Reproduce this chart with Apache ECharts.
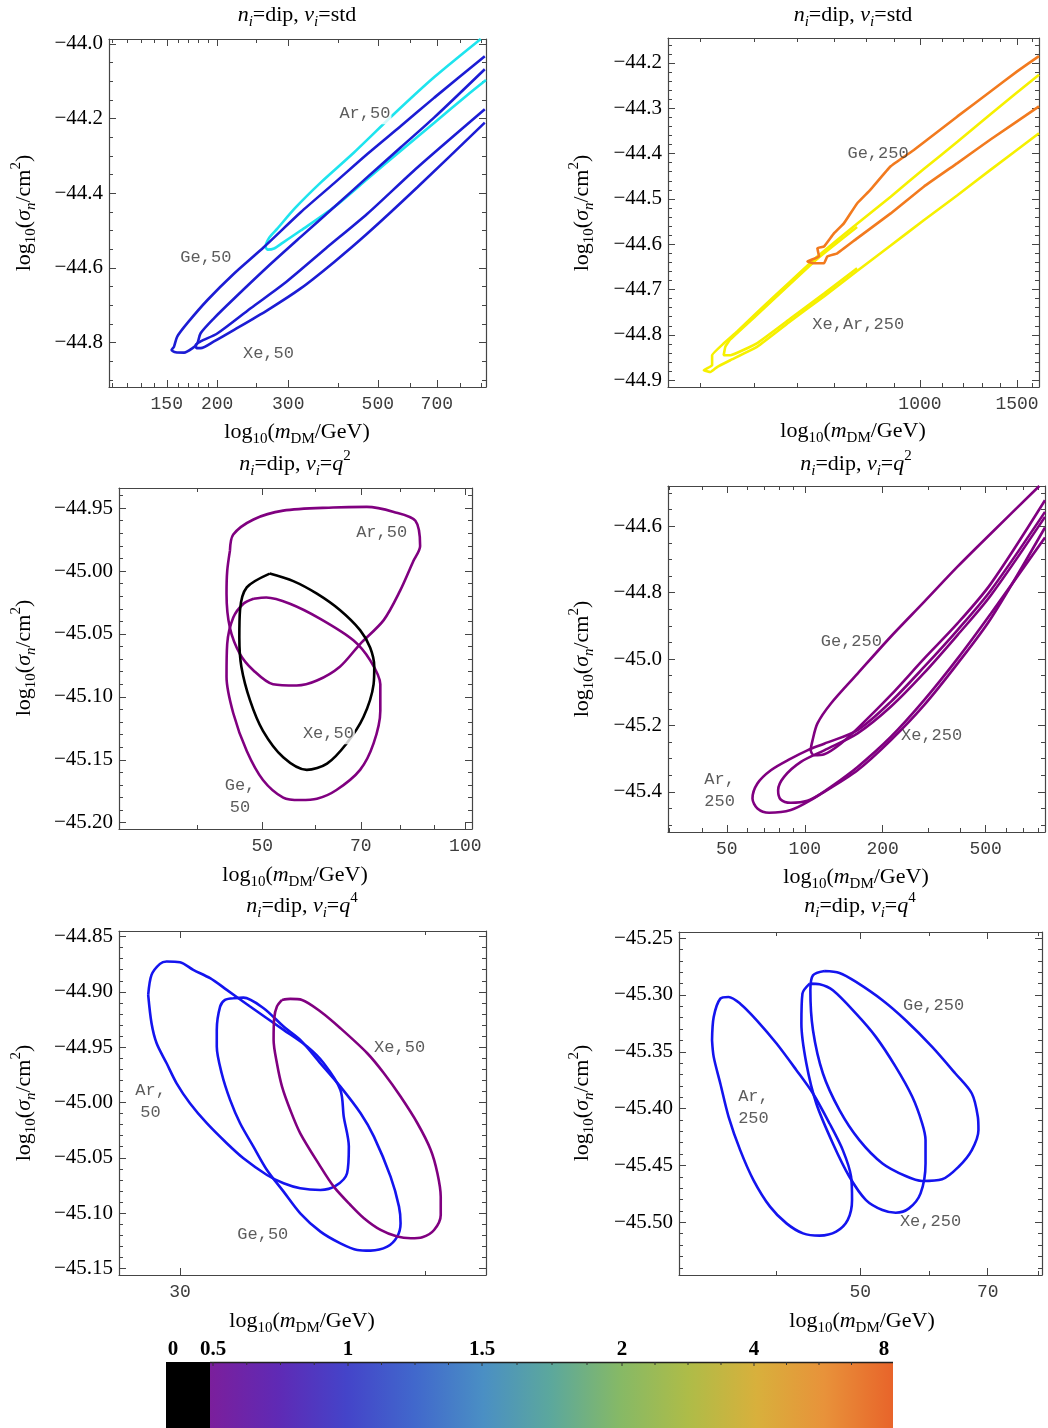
<!DOCTYPE html>
<html><head><meta charset="utf-8">
<script src="https://cdn.jsdelivr.net/npm/echarts@6/dist/echarts.min.js"></script>
<style>html,body{margin:0;padding:0;background:#fff}#c{width:1048px;height:1428px}</style>
</head><body><div id="c"></div>
<script>
// ---------- DATA: contour curves as [log10(m/GeV), log10(sigma/cm^2)] ----------
const p1Ar = [[2.954,-43.987],[2.839,-44.089],[2.739,-44.188],[2.640,-44.291],[2.558,-44.371],[2.492,-44.442],[2.450,-44.495],[2.430,-44.519],[2.421,-44.544],[2.426,-44.551],[2.442,-44.548],[2.463,-44.533],[2.508,-44.500],[2.591,-44.437],[2.673,-44.362],[2.756,-44.286],[2.839,-44.211],[2.921,-44.137],[2.967,-44.097]];
const p1Ge = [[2.964,-44.033],[2.839,-44.144],[2.756,-44.220],[2.673,-44.295],[2.591,-44.373],[2.508,-44.451],[2.417,-44.544],[2.343,-44.615],[2.277,-44.686],[2.227,-44.748],[2.202,-44.784],[2.194,-44.811],[2.188,-44.820],[2.198,-44.826],[2.219,-44.827],[2.240,-44.815],[2.252,-44.802],[2.260,-44.775],[2.293,-44.735],[2.343,-44.682],[2.426,-44.597],[2.508,-44.517],[2.591,-44.437],[2.673,-44.357],[2.756,-44.277],[2.839,-44.197],[2.964,-44.068]];
const p1Xe = [[2.964,-44.175],[2.797,-44.331],[2.673,-44.455],[2.570,-44.548],[2.467,-44.642],[2.384,-44.708],[2.302,-44.775],[2.260,-44.797],[2.248,-44.806],[2.250,-44.815],[2.260,-44.815],[2.293,-44.797],[2.343,-44.766],[2.426,-44.713],[2.508,-44.655],[2.591,-44.584],[2.673,-44.508],[2.797,-44.384],[2.964,-44.211]];

const p2Ge = [[3.216,-44.185],[3.177,-44.218],[3.128,-44.263],[3.068,-44.318],[2.989,-44.392],[2.947,-44.428],[2.910,-44.480],[2.886,-44.510],[2.862,-44.554],[2.844,-44.576],[2.826,-44.605],[2.814,-44.609],[2.817,-44.627],[2.796,-44.638],[2.808,-44.642],[2.826,-44.642],[2.832,-44.627],[2.850,-44.620],[2.886,-44.587],[2.947,-44.532],[3.007,-44.473],[3.068,-44.421],[3.128,-44.369],[3.216,-44.296]];
const p2XeAr = [[3.216,-44.226],[3.128,-44.313],[3.068,-44.374],[3.007,-44.434],[2.947,-44.495],[2.886,-44.555],[2.814,-44.627],[2.765,-44.682],[2.705,-44.750],[2.669,-44.792],[2.644,-44.819],[2.623,-44.845],[2.623,-44.867],[2.608,-44.878],[2.620,-44.882],[2.632,-44.871],[2.656,-44.856],[2.705,-44.826],[2.765,-44.770],[2.826,-44.715],[2.886,-44.659],[2.947,-44.603],[3.007,-44.547],[3.068,-44.492],[3.128,-44.436],[3.216,-44.355]];
const p2XeArInner = [[2.886,-44.562],[2.814,-44.632],[2.705,-44.755],[2.656,-44.810],[2.647,-44.826],[2.644,-44.845],[2.656,-44.845],[2.705,-44.818],[2.765,-44.764],[2.826,-44.709],[2.886,-44.653]];

const p3Ar = [[1.651,-44.984],[1.656,-44.971],[1.686,-44.959],[1.730,-44.952],[1.804,-44.9495],[1.854,-44.949],[1.894,-44.953],[1.926,-44.960],[1.933,-44.980],[1.923,-44.992],[1.903,-45.016],[1.879,-45.039],[1.844,-45.058],[1.814,-45.076],[1.780,-45.087],[1.750,-45.091],[1.715,-45.090],[1.686,-45.079],[1.666,-45.066],[1.651,-45.045],[1.646,-45.018],[1.647,-45.000],[1.651,-44.984]];
const p3Ge = [[1.686,-45.022],[1.705,-45.021],[1.740,-45.026],[1.785,-45.038],[1.834,-45.055],[1.859,-45.071],[1.874,-45.090],[1.874,-45.111],[1.864,-45.137],[1.844,-45.158],[1.809,-45.174],[1.780,-45.181],[1.755,-45.182],[1.730,-45.180],[1.700,-45.166],[1.676,-45.143],[1.656,-45.113],[1.646,-45.084],[1.647,-45.058],[1.656,-45.037],[1.671,-45.026],[1.686,-45.022]];
const p3Xe = [[1.710,-45.002],[1.745,-45.008],[1.780,-45.018],[1.814,-45.031],[1.844,-45.047],[1.859,-45.061],[1.865,-45.076],[1.864,-45.090],[1.849,-45.116],[1.824,-45.137],[1.795,-45.153],[1.765,-45.158],[1.730,-45.148],[1.700,-45.127],[1.681,-45.103],[1.668,-45.076],[1.665,-45.053],[1.666,-45.031],[1.676,-45.013],[1.710,-45.002]];

const p4Ge = [[2.906,-44.479],[2.719,-44.622],[2.590,-44.722],[2.461,-44.828],[2.332,-44.933],[2.204,-45.044],[2.101,-45.134],[2.049,-45.194],[2.030,-45.245],[2.023,-45.275],[2.036,-45.290],[2.075,-45.287],[2.139,-45.255],[2.204,-45.209],[2.332,-45.109],[2.461,-44.999],[2.590,-44.893],[2.719,-44.773],[2.928,-44.522]];
const p4Ar = [[2.928,-44.557],[2.719,-44.793],[2.590,-44.913],[2.461,-45.024],[2.332,-45.129],[2.204,-45.214],[2.075,-45.255],[2.010,-45.275],[1.946,-45.300],[1.869,-45.335],[1.817,-45.375],[1.798,-45.420],[1.817,-45.450],[1.862,-45.463],[1.946,-45.455],[2.023,-45.425],[2.101,-45.385],[2.204,-45.325],[2.332,-45.235],[2.461,-45.124],[2.590,-44.999],[2.719,-44.863],[2.928,-44.634]];
const p4Xe = [[2.928,-44.572],[2.719,-44.808],[2.590,-44.928],[2.461,-45.042],[2.332,-45.144],[2.204,-45.224],[2.075,-45.275],[1.985,-45.310],[1.920,-45.355],[1.897,-45.395],[1.907,-45.423],[1.946,-45.433],[2.010,-45.427],[2.075,-45.400],[2.204,-45.335],[2.332,-45.245],[2.461,-45.139],[2.590,-45.014],[2.719,-44.878],[2.928,-44.604]];

const p5Ar = [[1.4609,-44.9028],[1.4626,-44.8847],[1.4669,-44.8747],[1.4703,-44.8726],[1.4771,-44.8732],[1.4839,-44.8801],[1.4925,-44.8877],[1.5010,-44.8982],[1.5129,-44.9133],[1.5300,-44.9344],[1.5420,-44.9495],[1.5505,-44.9646],[1.5590,-44.9887],[1.5607,-45.0128],[1.5633,-45.0399],[1.5624,-45.0640],[1.5565,-45.0755],[1.5488,-45.0791],[1.5385,-45.0776],[1.5300,-45.0731],[1.5215,-45.0656],[1.5095,-45.0505],[1.5010,-45.0369],[1.4908,-45.0188],[1.4822,-45.0007],[1.4754,-44.9827],[1.4703,-44.9646],[1.4652,-44.9465],[1.4626,-44.9284],[1.4609,-44.9028]];
const p5Ge = [[1.5044,-44.9058],[1.5095,-44.9052],[1.5198,-44.9148],[1.5300,-44.9314],[1.5385,-44.9435],[1.5488,-44.9646],[1.5590,-44.9857],[1.5693,-45.0098],[1.5761,-45.0309],[1.5846,-45.0671],[1.5889,-45.0942],[1.5897,-45.1093],[1.5880,-45.1213],[1.5829,-45.1304],[1.5744,-45.1340],[1.5676,-45.1334],[1.5590,-45.1274],[1.5488,-45.1168],[1.5385,-45.1002],[1.5300,-45.0806],[1.5215,-45.0610],[1.5146,-45.0399],[1.5078,-45.0188],[1.5027,-44.9977],[1.4984,-44.9736],[1.4959,-44.9495],[1.4959,-44.9344],[1.4976,-44.9133],[1.5001,-44.9073],[1.5044,-44.9058]];
const p5Xe = [[1.5292,-44.9073],[1.5334,-44.9064],[1.5394,-44.9073],[1.5488,-44.9178],[1.5590,-44.9329],[1.5727,-44.9555],[1.5812,-44.9736],[1.5897,-44.9947],[1.5983,-45.0188],[1.6051,-45.0429],[1.6085,-45.0640],[1.6102,-45.0852],[1.6102,-45.1017],[1.6068,-45.1153],[1.6008,-45.1219],[1.5949,-45.1228],[1.5880,-45.1213],[1.5795,-45.1153],[1.5710,-45.1047],[1.5641,-45.0927],[1.5556,-45.0761],[1.5488,-45.0580],[1.5385,-45.0279],[1.5334,-45.0068],[1.5292,-44.9857],[1.5266,-44.9646],[1.5249,-44.9435],[1.5252,-44.9239],[1.5266,-44.9133],[1.5292,-44.9073]];

const p6Ar = [[1.5289,-45.3399],[1.5308,-45.3194],[1.5384,-45.3033],[1.5479,-45.3018],[1.5612,-45.3077],[1.5802,-45.3223],[1.6029,-45.3428],[1.6257,-45.3662],[1.6447,-45.3867],[1.6637,-45.4131],[1.6789,-45.4365],[1.6884,-45.4599],[1.6895,-45.4804],[1.6846,-45.4979],[1.6713,-45.5082],[1.6523,-45.5117],[1.6333,-45.5097],[1.6143,-45.5009],[1.5954,-45.4862],[1.5764,-45.4628],[1.5612,-45.4365],[1.5479,-45.4072],[1.5384,-45.3779],[1.5308,-45.3545],[1.5289,-45.3399]];
const p6Ge = [[1.6580,-45.2790],[1.6447,-45.2828],[1.6417,-45.2960],[1.6447,-45.3311],[1.6561,-45.3691],[1.6751,-45.4013],[1.6979,-45.4277],[1.7244,-45.4482],[1.7510,-45.4593],[1.7700,-45.4637],[1.7928,-45.4622],[1.8118,-45.4511],[1.8269,-45.4365],[1.8345,-45.4189],[1.8338,-45.4072],[1.8269,-45.3867],[1.8080,-45.3691],[1.7814,-45.3457],[1.7510,-45.3223],[1.7244,-45.3047],[1.6941,-45.2886],[1.6751,-45.2807],[1.6580,-45.2790]];
const p6Xe = [[1.6409,-45.2901],[1.6326,-45.2989],[1.6314,-45.3252],[1.6371,-45.3604],[1.6485,-45.3955],[1.6675,-45.4306],[1.6865,-45.4599],[1.7055,-45.4804],[1.7244,-45.4892],[1.7396,-45.4915],[1.7548,-45.4877],[1.7681,-45.4745],[1.7738,-45.4482],[1.7738,-45.4277],[1.7700,-45.4131],[1.7586,-45.3896],[1.7396,-45.3633],[1.7168,-45.3369],[1.6941,-45.3165],[1.6675,-45.2960],[1.6523,-45.2907],[1.6409,-45.2901]];

// contour labels [log10 m, log10 sigma, text, whiteBackground]
const p1Labels = [[2.667,-44.186,'Ar,50',1],[2.273,-44.571,'Ge,50',0],[2.428,-44.830,'Xe,50',0]];
const p2Labels = [[2.924,-44.399,'Ge,250',0],[2.888,-44.778,'Xe,Ar,250',0]];
const p3Labels = [[1.876,-44.969,'Ar,50',0],[1.797,-45.129,'Xe,50',1],[1.666,-45.179,'Ge,\n50',0]];
const p4Labels = [[2.180,-44.948,'Ge,250',0],[2.490,-45.230,'Xe,250',0],[1.671,-45.397,'Ar,\n250',0]];
const p5Labels = [[1.4621,-44.9995,'Ar,\n50',0],[1.5892,-44.9504,'Xe,50',0],[1.5194,-45.1192,'Ge,50',0]];
const p6Labels = [[1.7830,-45.3097,'Ge,250',0],[1.7795,-45.4994,'Xe,250',0],[1.5764,-45.399,'Ar,\n250',0]];

// tick values (x in GeV, y in log10 sigma)
const p1XMajor = [150,200,300,500,700];
const p1XMinor = [110,120,130,140,160,170,180,190,250,400,600,800,900];
const p1YMajor = [-44.8,-44.6,-44.4,-44.2,-44.0];
const p2XMajor = [1000,1500];
const p2XMinor = [400,500,600,700,800,900,1100,1200,1300,1400,1600];
const p2YMajor = [-44.9,-44.8,-44.7,-44.6,-44.5,-44.4,-44.3,-44.2];
const p3XMajor = [50,70,100];
const p3XMinor = [40,60,80,90];
const p3YMajor = [-45.20,-45.15,-45.10,-45.05,-45.00,-44.95];
const p4XMajor = [50,100,200,500];
const p4XMinor = [30,40,60,70,80,90,300,400,600,700,800];
const p4YMajor = [-45.4,-45.2,-45.0,-44.8,-44.6];
const p5XMajor = [30];
const p5XMinor = [40];
const p5YMajor = [-45.15,-45.10,-45.05,-45.00,-44.95,-44.90,-44.85];
const p6XMajor = [50,70];
const p6XMinor = [40,60,80];
const p6YMajor = [-45.50,-45.45,-45.40,-45.35,-45.30,-45.25];

// colorbar
const cbLabels = ['0','0.5','1','1.5','2','4','8'];
const cbStops = [[0,'#7b1f9c'],[0.1,'#5f2ab5'],[0.2,'#4444c9'],[0.3,'#4168cc'],[0.4,'#4a8fc4'],[0.5,'#5ca89c'],[0.6,'#86b966'],[0.7,'#aebc48'],[0.8,'#d8b03c'],[0.9,'#e8923a'],[1,'#e8642a']];

// ---------- LAYOUT / STYLE ----------
const SERIF = '"Liberation Serif","Times New Roman",serif';
const MONO = '"Liberation Mono","DejaVu Sans Mono",monospace';
function steps(a, b, s) { const r = []; for (let k = 0; a + k * s <= b + 1e-9; k++) r.push(+(a + k * s).toFixed(4)); return r; }

const STD = '{it|n}{subit|i}{n|=dip, }{it|ν}{subit|i}{n|=std}';
const Q2 = '{it|n}{subit|i}{n|=dip, }{it|ν}{subit|i}{n|=}{it|q}{sup|2}';
const Q4 = '{it|n}{subit|i}{n|=dip, }{it|ν}{subit|i}{n|=}{it|q}{sup|4}';

const panels = [
  {grid:{left:109,top:39,width:377,height:348}, x:[2.033,2.967], y:[-44.919,-43.987], xMaj:p1XMajor, xMin:p1XMinor, yMaj:p1YMajor, yMin:steps(-44.9,-44.0,0.05), dec:1, title:STD,
   curves:[[p1Ar,'#1ee4ee'],[p1Ge,'#1c1cd4'],[p1Xe,'#1c1cd4']], labels:p1Labels, smooth:0.25, tc:[297,15], xn:[297,432], yn:[24,213]},
  {grid:{left:668,top:38,width:371,height:349}, x:[2.543,3.216], y:[-44.915,-44.145], xMaj:p2XMajor, xMin:p2XMinor, yMaj:p2YMajor, yMin:steps(-44.9,-44.16,0.02), dec:1, title:STD,
   curves:[[p2XeAr,'#f6f000'],[p2XeArInner,'#f6f000'],[p2Ge,'#f27a1e']], labels:p2Labels, smooth:0.1, tc:[853,15], xn:[853,431], yn:[582,213]},
  {grid:{left:119,top:488,width:353,height:341}, x:[1.4866,2.0099], y:[-45.205,-44.934], xMaj:p3XMajor, xMin:p3XMinor, yMaj:p3YMajor, yMin:steps(-45.20,-44.94,0.01), dec:2, title:Q2,
   curves:[[p3Ar,'#800080'],[p3Ge,'#800080'],[p3Xe,'#000000']], labels:p3Labels, smooth:0.3, tc:[295,464], xn:[295,875], yn:[24,658]},
  {grid:{left:668,top:486,width:377,height:346}, x:[1.4716,2.928], y:[-45.521,-44.479], xMaj:p4XMajor, xMin:p4XMinor, yMaj:p4YMajor, yMin:steps(-45.5,-44.5,0.05), dec:1, title:Q2,
   curves:[[p4Ge,'#800080'],[p4Ar,'#800080'],[p4Xe,'#800080']], labels:p4Labels, smooth:0.3, tc:[856,464], xn:[856,877], yn:[582,659]},
  {grid:{left:119,top:931,width:367,height:344}, x:[1.446,1.6333], y:[-45.156,-44.845], xMaj:p5XMajor, xMin:p5XMinor, yMaj:p5YMajor, yMin:steps(-45.15,-44.85,0.01), dec:2, title:Q4,
   curves:[[p5Ar,'#1414ee'],[p5Ge,'#1414ee'],[p5Xe,'#800080']], labels:p5Labels, smooth:0.3, tc:[302,906], xn:[302,1321], yn:[24,1103]},
  {grid:{left:679,top:932,width:363,height:343}, x:[1.491,1.9074], y:[-45.5463,-45.2447], xMaj:p6XMajor, xMin:p6XMinor, yMaj:p6YMajor, yMin:steps(-45.54,-45.25,0.01), dec:2, title:Q4,
   curves:[[p6Ar,'#1414ee'],[p6Ge,'#1414ee'],[p6Xe,'#1414ee']], labels:p6Labels, smooth:0.3, tc:[860,906], xn:[862,1321], yn:[582,1103]}
];

const FS = 22, FSS = 15;
const richBase = {
  n:{fontFamily:SERIF,fontSize:FS,color:'#000',lineHeight:30},
  it:{fontFamily:SERIF,fontSize:FS,fontStyle:'italic',color:'#000',lineHeight:30},
  sub:{fontFamily:SERIF,fontSize:FSS,color:'#000',lineHeight:14,verticalAlign:'bottom'},
  subit:{fontFamily:SERIF,fontSize:FSS,fontStyle:'italic',color:'#000',lineHeight:14,verticalAlign:'bottom'},
  sup:{fontFamily:SERIF,fontSize:FSS,color:'#000',lineHeight:14,verticalAlign:'top'}
};
const X_NAME = '{n|log}{sub|10}{n|(}{it|m}{sub|DM}{n|/GeV)}';
const Y_NAME = '{n|log}{sub|10}{n|(}{it|σ}{subit|n}{n|/cm}{sup|2}{n|)}';

const grids = [], xAxes = [], yAxes = [], series = [], graphics = [];
const AX = '#454545';
const fmtY = (dec) => (v) => (v < 0 ? '\u2212' : '') + Math.abs(v).toFixed(dec);
const fmtX = (v) => String(Math.round(Math.pow(10, v)));

panels.forEach((p, gi) => {
  grids.push(Object.assign({outerBoundsMode:'none', containLabel:false}, p.grid));
  const xMajL = p.xMaj.map(Math.log10), xMinL = p.xMin.map(Math.log10);
  const bx = {gridIndex:gi, type:'value', min:p.x[0], max:p.x[1], splitLine:{show:false}};
  const by = {gridIndex:gi, type:'value', min:p.y[0], max:p.y[1], splitLine:{show:false}};
  const line = {show:true, onZero:false, lineStyle:{color:AX, width:1.2}};
  const noLine = {show:false, onZero:false};
  const tk = (vals, len) => ({show:true, inside:true, length:len, customValues:vals, lineStyle:{color:AX, width:1}});
  xAxes.push(Object.assign({}, bx, {position:'bottom', axisLine:line, axisTick:tk(xMajL,7),
    axisLabel:{show:true, customValues:xMajL, formatter:fmtX, margin:8, fontFamily:MONO, fontSize:18, color:'#3c3c3c'}}));
  xAxes.push(Object.assign({}, bx, {position:'bottom', axisLine:noLine, axisTick:tk(xMinL,4), axisLabel:{show:false}}));
  xAxes.push(Object.assign({}, bx, {position:'top', axisLine:line, axisTick:tk(xMajL,7), axisLabel:{show:false}}));
  xAxes.push(Object.assign({}, bx, {position:'top', axisLine:noLine, axisTick:tk(xMinL,4), axisLabel:{show:false}}));
  yAxes.push(Object.assign({}, by, {position:'left', axisLine:line, axisTick:tk(p.yMaj,7),
    axisLabel:{show:true, customValues:p.yMaj, formatter:fmtY(p.dec), margin:6, fontFamily:SERIF, fontSize:21, color:'#000'}}));
  yAxes.push(Object.assign({}, by, {position:'left', axisLine:noLine, axisTick:tk(p.yMin,4), axisLabel:{show:false}}));
  yAxes.push(Object.assign({}, by, {position:'right', axisLine:line, axisTick:tk(p.yMaj,7), axisLabel:{show:false}}));
  yAxes.push(Object.assign({}, by, {position:'right', axisLine:noLine, axisTick:tk(p.yMin,4), axisLabel:{show:false}}));

  p.curves.forEach(([data, color]) => {
    series.push({type:'line', xAxisIndex:4*gi, yAxisIndex:4*gi, data:data, showSymbol:false, symbol:'none',
      smooth:p.smooth, clip:true, silent:true, z:2, lineStyle:{color:color, width:2.6}});
  });
  series.push({type:'scatter', xAxisIndex:4*gi, yAxisIndex:4*gi, z:5, silent:true, symbolSize:1,
    itemStyle:{color:'rgba(0,0,0,0)'},
    data:p.labels.map(l => ({value:[l[0], l[1]], name:l[2],
      label:{backgroundColor: l[3] ? '#fff' : 'transparent'}})),
    label:{show:true, position:'inside', formatter:'{b}', fontFamily:MONO, fontSize:17, color:'#333',
      lineHeight:22, align:'center', padding:[0,1]}});

  graphics.push({type:'text', x:p.tc[0], y:p.tc[1], style:{text:p.title, rich:richBase, align:'center', verticalAlign:'middle'}});
  graphics.push({type:'text', x:p.xn[0], y:p.xn[1], style:{text:X_NAME, rich:richBase, align:'center', verticalAlign:'middle'}});
  graphics.push({type:'text', x:p.yn[0], y:p.yn[1], rotation:Math.PI/2, style:{text:Y_NAME, rich:richBase, align:'center', verticalAlign:'middle'}});
});

// colorbar (layout positions in px)
const cbLeft = 166, cbBlackEnd = 210, cbRight = 893, cbTop = 1362, cbBottom = 1428;
const cbLabelX = [173, 213, 348, 482, 622, 754, 884];
graphics.push({type:'rect', shape:{x:cbLeft, y:cbTop, width:cbBlackEnd-cbLeft, height:cbBottom-cbTop}, style:{fill:'#000'}});
graphics.push({type:'rect', shape:{x:cbBlackEnd, y:cbTop, width:cbRight-cbBlackEnd, height:cbBottom-cbTop},
  style:{fill:new echarts.graphic.LinearGradient(0,0,1,0, cbStops.map(s => ({offset:s[0], color:s[1]})))}});
graphics.push({type:'line', shape:{x1:cbBlackEnd, y1:cbTop+0.5, x2:cbRight, y2:cbTop+0.5}, style:{stroke:'#222', lineWidth:1.5}});
for (let i = 1; i < cbLabelX.length - 1; i++) {
  const a = cbLabelX[i], b = cbLabelX[i+1];
  for (let k = 0; k < 4; k++) {
    const xx = a + (b - a) * k / 4;
    graphics.push({type:'line', shape:{x1:xx, y1:cbTop, x2:xx, y2:cbTop + (k === 0 ? 4 : 3)}, style:{stroke:'#333', lineWidth:1}});
  }
}
cbLabels.forEach((t, i) => {
  graphics.push({type:'text', x:cbLabelX[i], y:1350, style:{text:t, fontFamily:SERIF, fontWeight:'bold', fontSize:21, fill:'#000', align:'center', verticalAlign:'middle'}});
});

const chart = echarts.init(document.getElementById('c'), null, {renderer:'canvas', width:1048, height:1428});
chart.setOption({
  animation:false,
  backgroundColor:'#fff',
  grid:grids, xAxis:xAxes, yAxis:yAxes, series:series,
  graphic:{elements:graphics}
});
</script></body></html>
